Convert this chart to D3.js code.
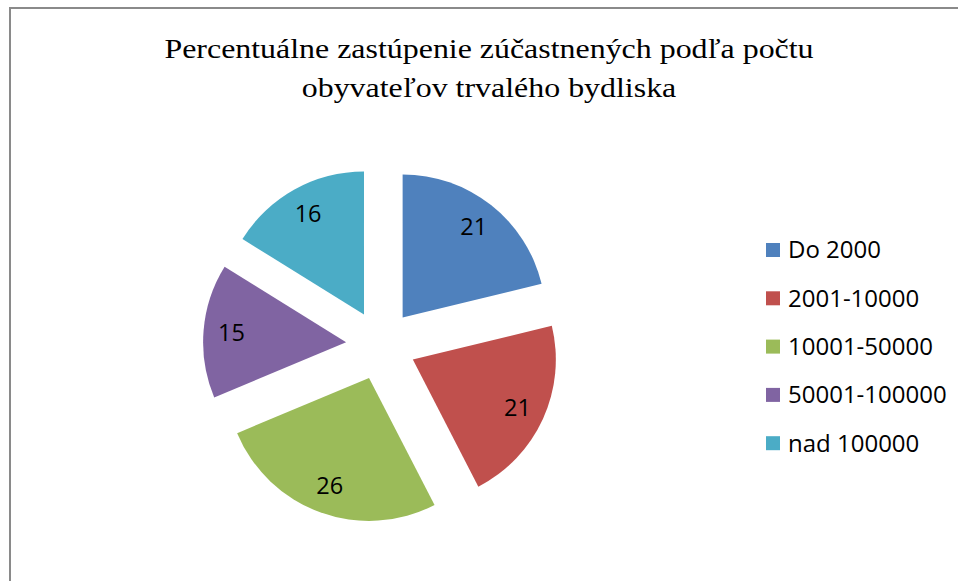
<!DOCTYPE html>
<html>
<head>
<meta charset="utf-8">
<script src="https://cdn.jsdelivr.net/npm/d3@7"></script>
<style>
  body { margin: 0; background: #fff; }
</style>
</head>
<body>
<div id="chart"></div>
<script>
// data
const categories = ["Do 2000", "2001-10000", "10001-50000", "50001-100000", "nad 100000"];
const values = [21, 21, 26, 15, 16];
const colors = ["#4F81BD", "#C0504D", "#9BBB59", "#8064A2", "#4BACC6"];
const titleLines = ["Percentuálne zastúpenie zúčastnených podľa počtu", "obyvateľov trvalého bydliska"];

const width = 958, height = 581;
const cx = 381, cy = 345, radius = 143, explode = 35, labelR = 115;

const svg = d3.select("#chart").append("svg")
  .attr("width", width)
  .attr("height", height);

svg.append("rect")
  .attr("x", 10).attr("y", 8)
  .attr("width", 980).attr("height", 620)
  .attr("fill", "#fff")
  .attr("stroke", "#8a8a8a")
  .attr("stroke-width", 2);

// title (the original is a bit stretched horizontally)
svg.append("g").selectAll("text")
  .data(titleLines)
  .enter().append("text")
  .attr("transform", (d, i) => "translate(489," + (58 + i * 39) + ") scale(1.14,1)")
  .attr("text-anchor", "middle")
  .style("font-family", "'Liberation Serif', 'Times New Roman', serif")
  .style("font-size", "28px")
  .attr("fill", "#000")
  .text(d => d);

const pie = d3.pie().sort(null).value(d => d);
const arcs = pie(values);
const arc = d3.arc().innerRadius(0).outerRadius(radius);

const plot = svg.append("g")
  .attr("transform", "translate(" + cx + "," + cy + ")");

function offset(d, r) {
  const a = (d.startAngle + d.endAngle) / 2;
  return [Math.sin(a) * r, -Math.cos(a) * r];
}

const slice = plot.selectAll("g.slice")
  .data(arcs)
  .enter().append("g")
  .attr("class", "slice")
  .attr("transform", d => "translate(" + offset(d, explode).join(",") + ")");

slice.append("path")
  .attr("d", arc)
  .attr("fill", (d, i) => colors[i]);

slice.append("text")
  .attr("x", d => offset(d, labelR)[0])
  .attr("y", d => offset(d, labelR)[1])
  .attr("dy", "0.35em")
  .attr("text-anchor", "middle")
  .style("font-family", "'Open Sans', 'Liberation Sans', sans-serif")
  .style("font-size", "23.5px")
  .attr("fill", "#000")
  .text(d => d.data);

// legend
const legend = svg.append("g")
  .attr("transform", "translate(766,250)");

const item = legend.selectAll("g")
  .data(categories)
  .enter().append("g")
  .attr("transform", (d, i) => "translate(0," + (i * 48.3) + ")");

item.append("rect")
  .attr("x", 0).attr("y", -7)
  .attr("width", 14).attr("height", 14)
  .attr("fill", (d, i) => colors[i]);

item.append("text")
  .attr("x", 22)
  .attr("y", 0)
  .attr("dy", "0.35em")
  .style("font-family", "'Open Sans', 'Liberation Sans', sans-serif")
  .style("font-size", "24px")
  .attr("fill", "#000")
  .text(d => d);
</script>
</body>
</html>
